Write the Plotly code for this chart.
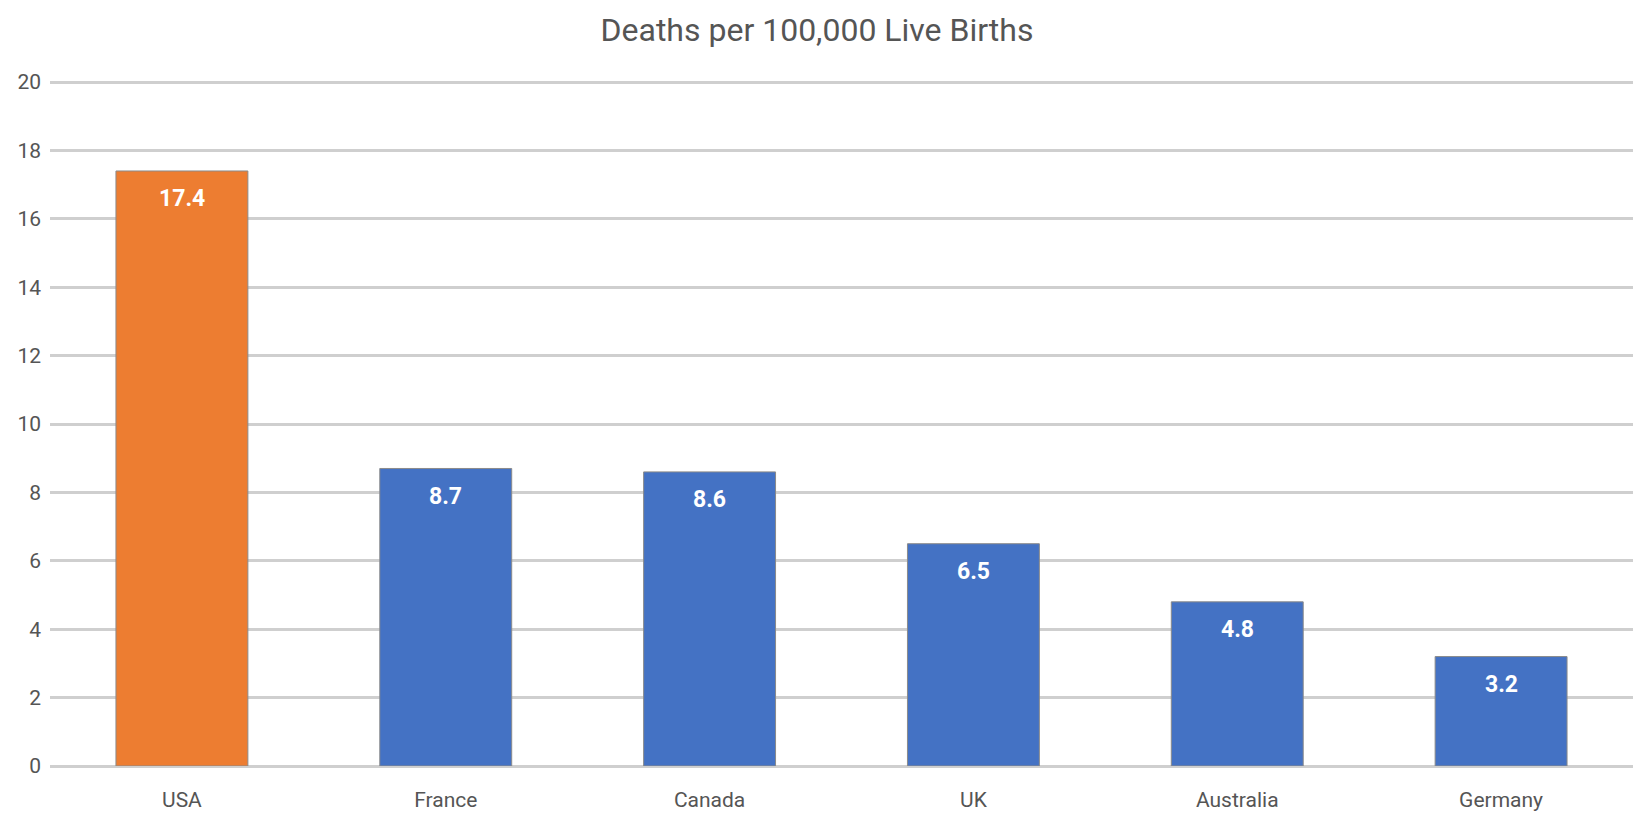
import plotly.graph_objects as go

countries = ["USA", "France", "Canada", "UK", "Australia", "Germany"]
deaths = [17.4, 8.7, 8.6, 6.5, 4.8, 3.2]
bar_colors = ["#ED7D31", "#4472C4", "#4472C4", "#4472C4", "#4472C4", "#4472C4"]
labels = ["17.4", "8.7", "8.6", "6.5", "4.8", "3.2"]
title_text = "Deaths per 100,000 Live Births"

FONT = "Roboto, sans-serif"

fig = go.Figure()
fig.add_trace(go.Bar(
    x=countries, y=deaths,
    marker=dict(color=bar_colors, line=dict(color="#8a8a8a", width=1)),
    width=0.5,
    hoverinfo="x+y",
))

for c, v, t in zip(countries, deaths, labels):
    fig.add_annotation(x=c, y=v, text="<b>%s</b>" % t, showarrow=False,
                       yanchor="middle", yshift=-28,
                       font=dict(family=FONT, size=23, color="white"))

fig.update_layout(
    width=1634, height=815,
    paper_bgcolor="white", plot_bgcolor="white",
    margin=dict(l=50, r=1, t=80, b=49),
    title=dict(text=title_text, x=0.5, xanchor="center", y=1 - 30/815, yanchor="middle",
               font=dict(family=FONT, size=32, color="#555555")),
    showlegend=False,
    font=dict(family=FONT, color="#555555"),
)
fig.update_yaxes(range=[0, 20.06], tickvals=list(range(0, 21, 2)), showgrid=True,
                 gridcolor="#cfcfcf", gridwidth=3,
                 zeroline=True, zerolinecolor="#cfcfcf", zerolinewidth=3,
                 tickfont=dict(family=FONT, size=21, color="#555555"), ticks="", ticklen=0,
                 ticklabelstandoff=8, showline=False)
fig.update_xaxes(showgrid=False, showline=False, ticks="", ticklabelstandoff=19,
                 tickfont=dict(family=FONT, size=21, color="#555555"))

fig.write_html("out.html")
